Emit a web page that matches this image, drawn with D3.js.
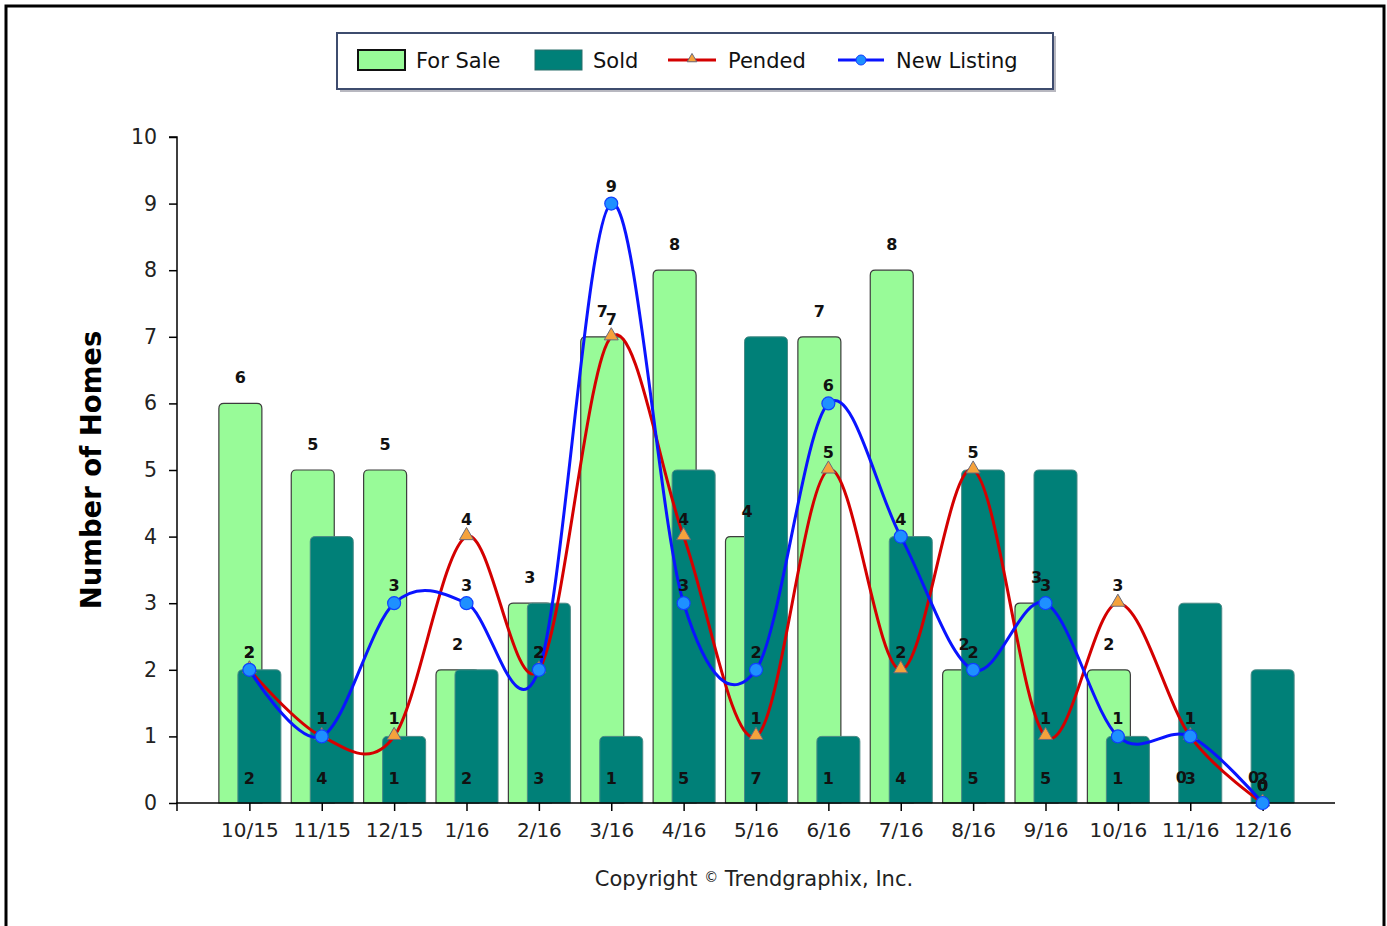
<!DOCTYPE html>
<html>
<head>
<meta charset="utf-8">
<script src="https://cdn.jsdelivr.net/npm/d3@7"></script>
<style>
  html, body { margin: 0; padding: 0; background: #fff; }
  svg { display: block; }
  text { font-family: "DejaVu Sans", Verdana, sans-serif; }
</style>
</head>
<body>
<svg id="chart" width="1387" height="926"></svg>
<script>
const months = ["10/15","11/15","12/15","1/16","2/16","3/16","4/16","5/16","6/16","7/16","8/16","9/16","10/16","11/16","12/16"];
const forSale = [6,5,5,2,3,7,8,4,7,8,2,3,2,0,0];
const sold = [2,4,1,2,3,1,5,7,1,4,5,5,1,3,2];
const pended = [2,1,1,4,2,7,4,1,5,2,5,1,3,1,0];
const newListing = [2,1,3,3,2,9,3,2,6,4,2,3,1,1,0];
const yTicks = [0,1,2,3,4,5,6,7,8,9,10];

const FONT = '"DejaVu Sans", Verdana, sans-serif';
const svg = d3.select("#chart");

// outer frame
svg.append("rect").attr("x", 6).attr("y", 6).attr("width", 1378).attr("height", 940)
  .attr("fill", "#fff").attr("stroke", "#000").attr("stroke-width", 3);

const x = d3.scaleLinear().domain([0, 16]).range([177, 1335]);
const y = d3.scaleLinear().domain([0, 10]).range([803, 137]);
const barW = 43;
const offFS = -9, offSold = 10;

function roundTopPath(cx, v) {
  const x0 = cx - barW / 2, x1 = cx + barW / 2;
  const yb = y(0), yt = y(v);
  if (v <= 0) return null;
  const r = Math.min(5, (yb - yt));
  return `M${x0},${yb}L${x0},${yt + r}Q${x0},${yt} ${x0 + r},${yt}L${x1 - r},${yt}Q${x1},${yt} ${x1},${yt + r}L${x1},${yb}Z`;
}

// For Sale bars
svg.append("g").selectAll("path").data(forSale).join("path")
  .attr("d", (d, i) => roundTopPath(x(i + 1) + offFS, d))
  .attr("fill", "#98fb98").attr("stroke", "#3c3c3c").attr("stroke-width", 1.2);

// Sold bars
svg.append("g").selectAll("path").data(sold).join("path")
  .attr("d", (d, i) => roundTopPath(x(i + 1) + offSold, d))
  .attr("fill", "#008078").attr("stroke", "#4a8a86").attr("stroke-width", 1);

// Axes
const yAxis = d3.axisLeft(y).tickValues(yTicks).tickSize(8).tickPadding(12).tickFormat(d3.format("d"));
const gy = svg.append("g").attr("transform", `translate(${x(0)},0)`).call(yAxis);
gy.attr("font-family", FONT).attr("font-size", 20.5);
gy.select(".domain").attr("stroke", "#000").attr("stroke-width", 1.5).attr("d", `M-8,${y(10)}H0V${y(0)}`);
gy.selectAll(".tick line").attr("stroke", "#000").attr("stroke-width", 1.5);
gy.selectAll(".tick text").attr("fill", "#222");

const xAxis = d3.axisBottom(x).tickValues(d3.range(1, 16)).tickSize(8).tickPadding(12)
  .tickFormat(d => months[d - 1]);
const gx = svg.append("g").attr("transform", `translate(0,${y(0)})`).call(xAxis);
gx.attr("font-family", FONT).attr("font-size", 20);
gx.select(".domain").attr("stroke", "#000").attr("stroke-width", 1.5).attr("d", `M${x(0)},8V0H${x(16)}`);
gx.selectAll(".tick line").attr("stroke", "#000").attr("stroke-width", 1.5);
gx.selectAll(".tick text").attr("fill", "#222");

// Lines
const line = d3.line().x((d, i) => x(i + 1)).y(d => y(d)).curve(d3.curveCardinal.tension(0));
svg.append("path").datum(pended).attr("d", line)
  .attr("fill", "none").attr("stroke", "#d40000").attr("stroke-width", 3);
svg.append("path").datum(newListing).attr("d", line)
  .attr("fill", "none").attr("stroke", "#0a14ff").attr("stroke-width", 3);

const tri = d3.symbol().type(d3.symbolTriangle).size(85);
svg.append("g").selectAll("path").data(pended).join("path")
  .attr("d", tri)
  .attr("transform", (d, i) => `translate(${x(i + 1)},${y(d) - 1})`)
  .attr("fill", "#f5a23c").attr("stroke", "#6a6a7a").attr("stroke-width", 1);
svg.append("g").selectAll("circle").data(newListing).join("circle")
  .attr("cx", (d, i) => x(i + 1)).attr("cy", d => y(d)).attr("r", 6.5)
  .attr("fill", "#1e90ff").attr("stroke", "#1040ff").attr("stroke-width", 1.2);

// Data labels
const lblStyle = sel => sel.attr("font-size", 16).attr("font-weight", "bold")
  .attr("text-anchor", "middle").attr("fill", "#111");
svg.append("g").selectAll("text").data(forSale).join("text")
  .attr("x", (d, i) => x(i + 1) + offFS).attr("y", d => y(d) - 20)
  .text(d => d).call(lblStyle);
svg.append("g").selectAll("text").data(sold).join("text")
  .attr("x", (d, i) => x(i + 1)).attr("y", 784)
  .text(d => d).call(lblStyle);
svg.append("g").selectAll("text").data(pended).join("text")
  .attr("x", (d, i) => x(i + 1)).attr("y", d => y(d) - 12)
  .text(d => d).call(lblStyle);
svg.append("g").selectAll("text").data(newListing).join("text")
  .attr("x", (d, i) => x(i + 1)).attr("y", d => y(d) - 12)
  .text(d => d).call(lblStyle);

// Y axis title
svg.append("text").attr("transform", `translate(101,${(y(0) + y(10)) / 2}) rotate(-90)`)
  .attr("text-anchor", "middle").attr("font-size", 27.5).attr("font-weight", "bold").attr("fill", "#000")
  .text("Number of Homes");

// Copyright
svg.append("text").attr("x", 754).attr("y", 886).attr("text-anchor", "middle")
  .attr("font-size", 21).attr("fill", "#222")
  .text("Copyright ").append("tspan").attr("font-size", 14).attr("dy", -4).text("©")
  .select(function () { return this.parentNode; })
  .append("tspan").attr("dy", 4).text(" Trendgraphix, Inc.");

// Legend
const lg = svg.append("g").attr("font-family", FONT);
lg.append("rect").attr("x", 340).attr("y", 36).attr("width", 716).attr("height", 56).attr("fill", "#b8b8c0");
lg.append("rect").attr("x", 337).attr("y", 33).attr("width", 716).attr("height", 56)
  .attr("fill", "#fff").attr("stroke", "#3e4c6e").attr("stroke-width", 2);
lg.append("rect").attr("x", 358).attr("y", 50).attr("width", 47).attr("height", 20)
  .attr("fill", "#98fb98").attr("stroke", "#111").attr("stroke-width", 2);
lg.append("text").attr("x", 416).attr("y", 68).attr("font-size", 21).attr("fill", "#111").text("For Sale");
lg.append("rect").attr("x", 535).attr("y", 50).attr("width", 47).attr("height", 20)
  .attr("fill", "#008078").attr("stroke", "#2a6e6a").attr("stroke-width", 1);
lg.append("text").attr("x", 593).attr("y", 68).attr("font-size", 21).attr("fill", "#111").text("Sold");
lg.append("line").attr("x1", 668).attr("x2", 716).attr("y1", 60).attr("y2", 60)
  .attr("stroke", "#d40000").attr("stroke-width", 3);
lg.append("path").attr("d", d3.symbol().type(d3.symbolTriangle).size(40)).attr("transform", "translate(692,59)")
  .attr("fill", "#f5a23c").attr("stroke", "#6a6a7a").attr("stroke-width", 1);
lg.append("text").attr("x", 728).attr("y", 68).attr("font-size", 21).attr("fill", "#111").text("Pended");
lg.append("line").attr("x1", 838).attr("x2", 884).attr("y1", 60).attr("y2", 60)
  .attr("stroke", "#0a14ff").attr("stroke-width", 3);
lg.append("circle").attr("cx", 861).attr("cy", 60).attr("r", 5)
  .attr("fill", "#1e90ff").attr("stroke", "#1040ff").attr("stroke-width", 1);
lg.append("text").attr("x", 896).attr("y", 68).attr("font-size", 21).attr("fill", "#111").text("New Listing");
</script>
</body>
</html>
